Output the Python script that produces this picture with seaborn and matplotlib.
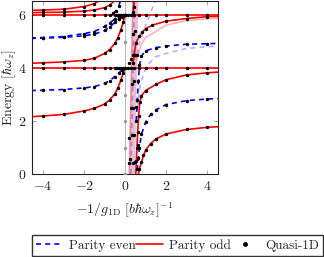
import numpy as np
import pandas as pd
import seaborn as sns
import matplotlib.pyplot as plt
from matplotlib.lines import Line2D

# curves, (x = -1/g, y = energy)
left_odd_1 = [(-4.6, 2.16), (-4, 2.19), (-3, 2.25), (-2, 2.38), (-1.5, 2.48), (-1, 2.64), (-0.75, 2.8),
              (-0.5, 3.02), (-0.35, 3.25), (-0.2, 3.55), (-0.1, 3.8), (0, 4.0)]
left_even_1 = [(-4.6, 3.15), (-4, 3.16), (-3, 3.19), (-2, 3.25), (-1.5, 3.3), (-1, 3.42), (-0.75, 3.52),
               (-0.5, 3.68), (-0.3, 3.82), (-0.15, 3.92), (0, 4.0)]
left_odd_2 = [(-4.6, 4.18), (-4, 4.2), (-3, 4.23), (-2, 4.29), (-1.5, 4.37), (-1, 4.55), (-0.75, 4.7),
              (-0.5, 4.93), (-0.35, 5.15), (-0.2, 5.45), (-0.1, 5.72), (0, 6.0)]
left_even_2a = [(-4.6, 5.12), (-4, 5.13), (-3, 5.16), (-2, 5.22), (-1.5, 5.28), (-1, 5.42), (-0.75, 5.55),
                (-0.5, 5.72), (-0.3, 5.85), (-0.15, 5.94), (0, 6.0)]
left_even_2b = [(-4.6, 5.14), (-4, 5.15), (-3, 5.19), (-2, 5.3), (-1.5, 5.38), (-1, 5.57), (-0.75, 5.7),
                (-0.5, 5.85), (-0.3, 5.93), (0, 6.0)]
left_odd_3 = [(-4.6, 6.18), (-4, 6.19), (-3, 6.22), (-2, 6.32), (-1.5, 6.43), (-1.1, 6.62)]
left_odd_4 = [(-4.6, 6.09), (-4, 6.1), (-3, 6.11), (-2, 6.15), (-1.5, 6.19), (-1, 6.28), (-0.75, 6.38),
              (-0.5, 6.55), (-0.4, 6.7)]
left_even_3 = [(-0.6, 6.06), (-0.45, 6.15), (-0.3, 6.35), (-0.2, 6.62)]

right_odd_1 = [(0.62, -0.2), (0.7, 0.2), (0.8, 0.45), (0.9, 0.7), (1.0, 0.9), (1.25, 1.15), (1.5, 1.32),
               (2, 1.51), (3, 1.68), (4, 1.76), (4.6, 1.79)]
right_even_1 = [(0.55, -0.2), (0.6, 0.2), (0.65, 0.6), (0.7, 1.0), (0.8, 1.5), (1.0, 1.95), (1.25, 2.25),
                (1.5, 2.42), (2, 2.62), (3, 2.77), (4, 2.83), (4.6, 2.85)]
right_odd_2 = [(0.52, -0.1), (0.55, 0.5), (0.58, 1.0), (0.62, 1.6), (0.66, 2.2), (0.72, 2.7), (0.8, 2.95),
               (1.0, 3.15), (1.5, 3.38), (2, 3.56), (3, 3.74), (4, 3.82), (4.6, 3.85)]
right_even_2 = [(0.55, 2.0), (0.6, 2.8), (0.65, 3.5), (0.7, 4.1), (0.8, 4.45), (1.0, 4.65), (1.5, 4.77),
                (2, 4.83), (3, 4.9), (4, 4.92), (4.6, 4.93)]
right_odd_3 = [(0.4, 4.2), (0.45, 4.5), (0.52, 4.93), (0.7, 5.2), (0.85, 5.37), (1.0, 5.48), (1.33, 5.62),
               (2, 5.77), (3, 5.87), (4, 5.94), (4.6, 5.95)]
right_odd_4 = [(0.4, 6.1), (0.45, 6.62)]

# faint 1D reference curves
faint_even_1 = [(0.62, 2.5), (0.7, 3.2), (0.9, 3.8), (1.2, 4.2), (1.5, 4.43), (2, 4.55), (3, 4.74),
                (4, 4.8), (4.6, 4.83)]
faint_even_2 = [(0.6, 4.5), (0.7, 4.95), (0.93, 5.43), (1.2, 6.0), (1.5, 6.6)]
faint_odd_1 = [(0.55, 4.3), (0.8, 4.9), (1.0, 5.15), (1.33, 5.3), (2, 5.62), (3, 5.79), (4, 5.86), (4.6, 5.88)]
faint_odd_band = [(0.2, 0.0), (0.38, 6.6)]
faint_even_band = [(0.28, 0.0), (0.46, 6.6)]

flat_levels = [4, 6]
flat_dot_x = [-4, -3, -2, -1.5, -1, -0.75, -0.5, -0.4, -0.3, -0.2, -0.1, 0.15, 0.3, 0.45, 0.7, 1, 1.5, 2, 3, 4]

band_y = [0, 6.6]
band_left = [0.17, 0.33]
band_right = [0.45, 0.63]

band_dot_x = [0.21, 0.37, 0.5, 0.24, 0.21, 0.33, 0.42, 0.62, 0.29, 0.4, 0.54, 0.35, 0.45, 0.4, 0.5, 0.45,
              0.2, 0.3, 0.38, 0.5, 0.6]
band_dot_y = [0.4, 0.42, 0.44, 0.55, 1.35, 1.47, 1.48, 1.09, 2.48, 2.5, 2.54, 3.4, 3.5, 5.3, 5.4, 6.3,
              4.2, 4.35, 4.5, 4.5, 4.5]

grey_dot_y = [0, 1, 2, 3, 4, 5, 6]

odd_curves = [left_odd_1, left_odd_2, left_odd_3, left_odd_4, right_odd_1, right_odd_2, right_odd_3, right_odd_4]
even_curves = [left_even_1, left_even_2a, left_even_2b, left_even_3, right_even_1, right_even_2]

RED = '#ff0000'
BLUE = '#0000ff'

sns.set_style('ticks')
plt.rcParams['font.family'] = 'cmr10'
plt.rcParams['mathtext.fontset'] = 'cm'
plt.rcParams['axes.formatter.use_mathtext'] = True

fig = plt.figure(figsize=(3.24, 2.57), dpi=100)
ax = fig.add_axes([0.099, 0.323, 0.574, 0.675])

ax.axvline(0, color='#bbbbbb', lw=0.8, zorder=1)
ax.fill_betweenx(band_y, band_left, band_right, color='#d97fa0', alpha=0.5, lw=0, zorder=1)


def to_df(pts):
    return pd.DataFrame(pts, columns=['x', 'y'])


for pts in [faint_odd_1, faint_odd_band]:
    sns.lineplot(data=to_df(pts), x='x', y='y', sort=False, estimator=None, color=RED, alpha=0.3, lw=1.2, ax=ax)
for pts in [faint_even_1, faint_even_2, faint_even_band]:
    sns.lineplot(data=to_df(pts), x='x', y='y', sort=False, estimator=None, color=BLUE, alpha=0.3, lw=1.2, ax=ax)
    ax.lines[-1].set_dashes([3, 2.5])

for lev in flat_levels:
    ax.axhline(lev, color=RED, lw=1.2, zorder=2)

for pts in odd_curves:
    sns.lineplot(data=to_df(pts), x='x', y='y', sort=False, estimator=None, color=RED, lw=1.2, ax=ax)
for pts in even_curves:
    sns.lineplot(data=to_df(pts), x='x', y='y', sort=False, estimator=None, color=BLUE, lw=1.2, ax=ax)
    ax.lines[-1].set_dashes([3, 2.5])

# quasi-1D points
dots = pd.concat([to_df(p) for p in odd_curves + even_curves])
dots = dots[(dots.x.abs() < 4.2) & (dots.y > 0) & (dots.y < 6.5)]
flat = pd.DataFrame({'x': flat_dot_x * len(flat_levels),
                     'y': np.repeat(flat_levels, len(flat_dot_x))})
band = pd.DataFrame({'x': band_dot_x, 'y': band_dot_y})
dots = pd.concat([dots, flat, band])
sns.scatterplot(data=dots, x='x', y='y', color='black', s=6, linewidth=0, zorder=5, ax=ax)
sns.scatterplot(x=[0] * len(grey_dot_y), y=grey_dot_y, color='#999999', s=6, linewidth=0, zorder=4, ax=ax)

ax.set_xlim(-4.54, 4.54)
ax.set_ylim(0, 6.55)
ax.set_xticks([-4, -2, 0, 2, 4])
ax.set_yticks([0, 2, 4, 6])
ax.tick_params(direction='in', top=True, right=True, length=3, width=0.6, color='#999999',
               labelsize=10, pad=4)
for s in ax.spines.values():
    s.set_color('#222222')
    s.set_linewidth(0.8)
ax.set_xlabel(r'$-1/g_{1\mathrm{D}}\ [b\hbar\omega_z]^{-1}$', fontsize=10, labelpad=6)
ax.set_ylabel(r'Energy $[\hbar\omega_z]$', fontsize=10)
ax.yaxis.set_label_coords(-0.075, 0.5)

handles = [Line2D([], [], color=BLUE, lw=1.2, dashes=[3, 2.5]),
           Line2D([], [], color=RED, lw=1.2),
           Line2D([], [], color='black', marker='o', ls='none', markersize=2.5)]
fig.legend(handles, ['Parity even', 'Parity odd', 'Quasi-1D'], loc='lower left',
           bbox_to_anchor=(0.099, 0.004, 0.897, 0.09), mode='expand', ncol=3, fontsize=9.5,
           frameon=True, fancybox=False, edgecolor='black', handlelength=2.0, handletextpad=0.5,
           borderaxespad=0, columnspacing=0.8, borderpad=0.3)
fig.savefig('out.png', dpi=100)
